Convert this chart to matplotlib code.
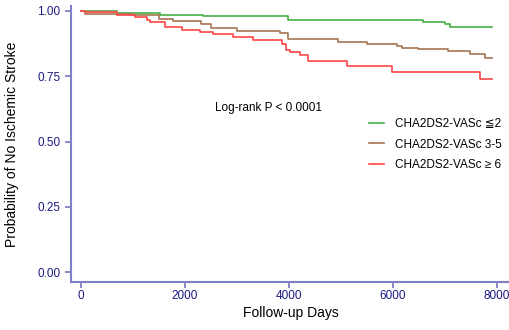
import numpy as np
import matplotlib
matplotlib.use("Agg")
import matplotlib.pyplot as plt

plt.rcParams['font.family'] = ['Liberation Sans', 'DejaVu Sans']

# step curves: (day, survival)
green_days = [0, 690, 1520, 2350, 3980, 6580, 7000, 7100, 7900]
green_surv = [1.0, 0.992, 0.986, 0.981, 0.967, 0.958, 0.950, 0.939, 0.939]

brown_days = [0, 80, 1000, 1500, 1770, 2300, 2500, 3000, 3830, 3980, 4940,
              5500, 6080, 6170, 6480, 7060, 7480, 7770, 7900]
brown_surv = [1.0, 0.99, 0.985, 0.97, 0.962, 0.95, 0.935, 0.925, 0.917, 0.893,
              0.881, 0.873, 0.866, 0.86, 0.853, 0.846, 0.835, 0.82, 0.82]

red_days = [0, 80, 700, 1040, 1270, 1330, 1610, 1940, 2290, 2540, 2920, 3310,
            3870, 3940, 4020, 4210, 4360, 5110, 5980, 7670, 7900]
red_surv = [1.0, 0.995, 0.985, 0.977, 0.966, 0.958, 0.939, 0.927, 0.92, 0.912,
            0.9, 0.889, 0.875, 0.85, 0.843, 0.831, 0.808, 0.789, 0.766, 0.739, 0.739]

labels = ['CHA2DS2-VASc \u22662', 'CHA2DS2-VASc 3-5', 'CHA2DS2-VASc \u2265 6']
colors = ['#45b045', '#a57650', '#ff4545']

xticks = [0, 2000, 4000, 6000, 8000]
yticks = [0.0, 0.25, 0.5, 0.75, 1.0]

fig = plt.figure(figsize=(5.1, 3.3), dpi=100)
ax = fig.add_axes([0.139, 0.1455, 0.861, 0.837])

for d, s, c, lab in zip([green_days, brown_days, red_days],
                        [green_surv, brown_surv, red_surv], colors, labels):
    ax.step(d, s, where='post', color=c, lw=1.2, label=lab)

ax.set_xlim(-192, 8250)
ax.set_ylim(-0.038, 1.02)
ax.set_xticks(xticks)
ax.set_yticks(yticks)
ax.set_yticklabels(['%.2f' % v for v in yticks])

spine_c = '#8080c8'
for side in ['top', 'right']:
    ax.spines[side].set_visible(False)
for side in ['left', 'bottom']:
    ax.spines[side].set_color(spine_c)
    ax.spines[side].set_linewidth(1.5)
ax.tick_params(colors=spine_c, labelcolor='#1a1a80', labelsize=8.5, length=4, width=1.3)
ax.tick_params(axis='x', pad=2)

ax.set_xlabel('Follow-up Days', fontsize=10, labelpad=3)
ax.set_ylabel('Probability of No Ischemic Stroke', fontsize=10, labelpad=13)

ax.text(2577, 0.628, 'Log-rank P < 0.0001', fontsize=8.5, va='center')

ax.legend(loc='upper left', bbox_to_anchor=(0.654, 0.633), frameon=False,
          fontsize=8.5, handlelength=1.3, handletextpad=0.9, labelspacing=0.75)

fig.savefig('out.png', dpi=100)
